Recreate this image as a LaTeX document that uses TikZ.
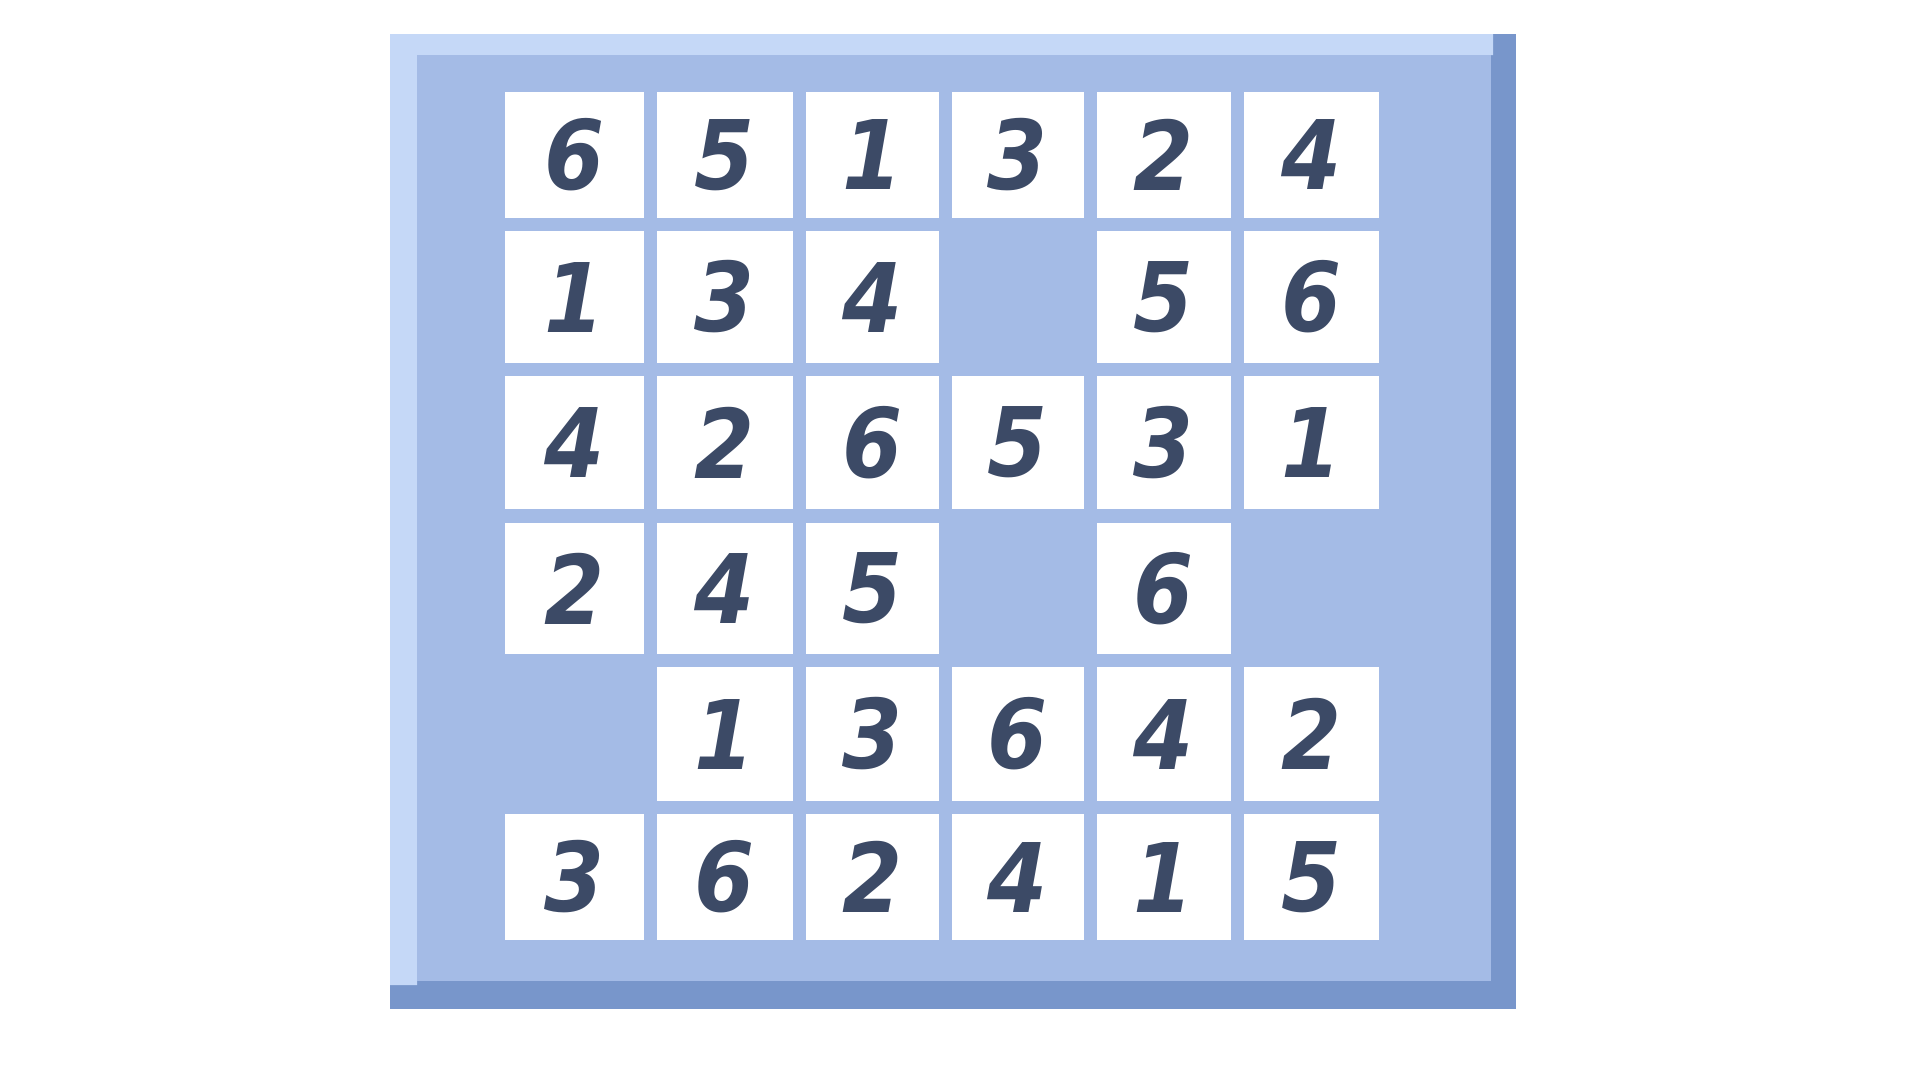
\documentclass[tikz,border=0pt]{standalone}
\usepackage{fontspec}
\setmainfont{DejaVu Sans}
\newfontfamily\digitfont{DejaVu Sans Condensed}
\definecolor{frameLight}{HTML}{C5D8F7}
\definecolor{frameMid}{HTML}{A4BBE6}
\definecolor{frameDark}{HTML}{7896CB}
\definecolor{digitCol}{HTML}{3C4A66}
\newcommand\tilecell[4]{%
  \pgfmathsetmacro\xa{{505,657,806,952,1097,1244}[#2]}%
  \pgfmathsetmacro\xb{{644,793,939,1084,1231,1379}[#2]}%
  \pgfmathsetmacro\ya{{92,231,376,523,667,814}[#3]}%
  \pgfmathsetmacro\yb{{218,363,509,654,801,940}[#3]}%
  \pgfmathsetmacro\tw{\xb-\xa}%
  \pgfmathsetmacro\th{\yb-\ya}%
  \node[tile, minimum width=\tw pt, minimum height=\th pt] (#1) at ({(\xa+\xb)/2},{(\ya+\yb)/2}) {#4};%
}
\begin{document}
\begin{tikzpicture}[x=1pt,y=-1pt,
  tile/.style={fill=white, inner sep=0pt, text=digitCol,
    font=\digitfont\fontsize{96}{96}\selectfont\bfseries\itshape}]
\useasboundingbox (0,0) rectangle (1920,1080);
\fill[white] (0,0) rectangle (1920,1080);
\fill[frameDark] (390,34) rectangle (1516,1009);
\fill[frameLight] (390,34) -- (1493,34) -- (1493,55) -- (417,55) -- (417,985) -- (390,985) -- cycle;
\fill[frameMid] (417,55) rectangle (1491,981);
% row 1
\tilecell{t11}{0}{0}{6}
\tilecell{t12}{1}{0}{5}
\tilecell{t13}{2}{0}{1}
\tilecell{t14}{3}{0}{3}
\tilecell{t15}{4}{0}{2}
\tilecell{t16}{5}{0}{4}
% row 2
\tilecell{t21}{0}{1}{1}
\tilecell{t22}{1}{1}{3}
\tilecell{t23}{2}{1}{4}
\tilecell{t25}{4}{1}{5}
\tilecell{t26}{5}{1}{6}
% row 3
\tilecell{t31}{0}{2}{4}
\tilecell{t32}{1}{2}{2}
\tilecell{t33}{2}{2}{6}
\tilecell{t34}{3}{2}{5}
\tilecell{t35}{4}{2}{3}
\tilecell{t36}{5}{2}{1}
% row 4
\tilecell{t41}{0}{3}{2}
\tilecell{t42}{1}{3}{4}
\tilecell{t43}{2}{3}{5}
\tilecell{t45}{4}{3}{6}
% row 5
\tilecell{t52}{1}{4}{1}
\tilecell{t53}{2}{4}{3}
\tilecell{t54}{3}{4}{6}
\tilecell{t55}{4}{4}{4}
\tilecell{t56}{5}{4}{2}
% row 6
\tilecell{t61}{0}{5}{3}
\tilecell{t62}{1}{5}{6}
\tilecell{t63}{2}{5}{2}
\tilecell{t64}{3}{5}{4}
\tilecell{t65}{4}{5}{1}
\tilecell{t66}{5}{5}{5}
\end{tikzpicture}
\end{document}
